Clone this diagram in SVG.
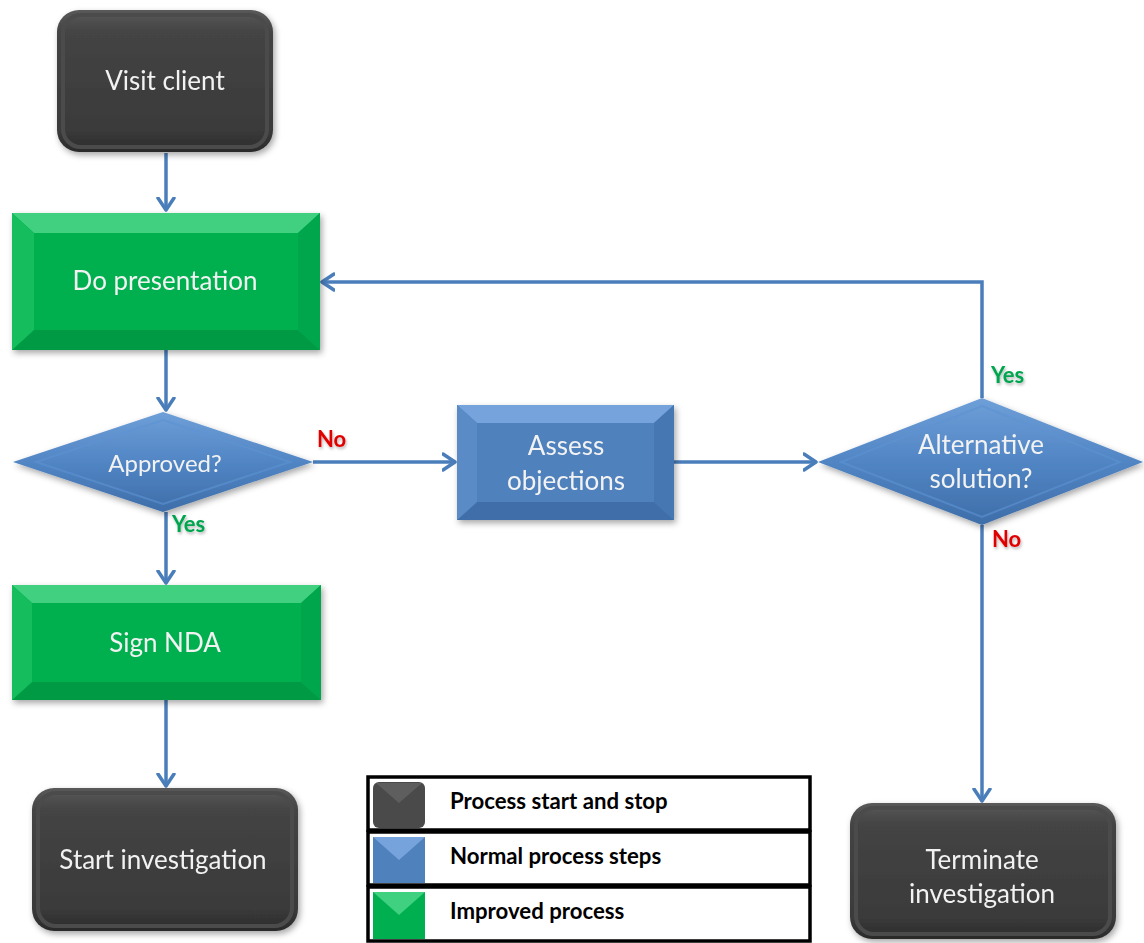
<svg xmlns="http://www.w3.org/2000/svg" width="1144" height="943" viewBox="0 0 1144 943">
<defs>
<style>
.lbl{font-family:Lato,"Liberation Sans",sans-serif;font-size:26px;fill:#f2f2f2;text-anchor:middle}
.yes{font-family:Lato,"Liberation Sans",sans-serif;font-size:22px;font-weight:bold;fill:#00a550}
.no{font-family:Lato,"Liberation Sans",sans-serif;font-size:22px;font-weight:bold;fill:#e00000}
.leg{font-family:Lato,"Liberation Sans",sans-serif;font-size:22.2px;font-weight:bold;fill:#000}
.conn{fill:none;stroke:#4a7ebb;stroke-width:3.5}
.legbox{fill:#fff;stroke:#000;stroke-width:3.5}
</style>
<marker id="arr" markerUnits="userSpaceOnUse" markerWidth="20" markerHeight="20" refX="13" refY="9" orient="auto" viewBox="0 0 20 18">
<path d="M1,1 L13,9 L1,17" fill="none" stroke="#4a7ebb" stroke-width="3.5" stroke-linecap="round" stroke-linejoin="round"/>
</marker>
<linearGradient id="gDark" x1="0" y1="0" x2="0" y2="1">
<stop offset="0" stop-color="#5a5a5a"/>
<stop offset="0.15" stop-color="#444"/>
<stop offset="0.85" stop-color="#3a3a3a"/>
<stop offset="1" stop-color="#2a2a2a"/>
</linearGradient>
<linearGradient id="gDia" x1="0" y1="0" x2="0" y2="1">
<stop offset="0" stop-color="#6e9fd8"/>
<stop offset="0.5" stop-color="#5185c4"/>
<stop offset="1" stop-color="#3e6ea9"/>
</linearGradient>
<filter id="sh" x="-10%" y="-10%" width="125%" height="130%">
<feDropShadow dx="2" dy="3" stdDeviation="3" flood-color="#000" flood-opacity="0.35"/>
</filter>
<filter id="tsh" x="-20%" y="-20%" width="150%" height="160%">
<feDropShadow dx="1" dy="2" stdDeviation="1.5" flood-color="#000" flood-opacity="0.3"/>
</filter>
</defs>
<rect width="1144" height="943" fill="#fff"/>

<g id="connectors">
<path class="conn" d="M166,153 L166,210" marker-end="url(#arr)"/>
<path class="conn" d="M166,350 L166,410" marker-end="url(#arr)"/>
<path class="conn" d="M166,512 L166,583" marker-end="url(#arr)"/>
<path class="conn" d="M166,700 L166,786" marker-end="url(#arr)"/>
<path class="conn" d="M313,462 L455,462" marker-end="url(#arr)"/>
<path class="conn" d="M674,462 L816,462" marker-end="url(#arr)"/>
<path class="conn" d="M982,398 L982,282 L322,282" marker-end="url(#arr)"/>
<path class="conn" d="M982,525 L982,801" marker-end="url(#arr)"/>
<text class="no" x="317" y="447" filter="url(#tsh)">No</text>
<text class="yes" x="172" y="532" filter="url(#tsh)">Yes</text>
<text class="yes" x="991" y="383" filter="url(#tsh)">Yes</text>
<text class="no" x="992" y="547" filter="url(#tsh)">No</text>
</g>

<g id="visit-client" filter="url(#sh)">
<rect x="57" y="10" width="216" height="142" rx="22" fill="url(#gDark)"/>
<rect x="63" y="15" width="204" height="132" rx="18" fill="none" stroke="#4c4c4c" stroke-width="4"/>
<text class="lbl" x="165" y="90">Visit client</text>
</g>

<g id="do-presentation" filter="url(#sh)">
<rect x="12" y="213" width="308" height="137" fill="#00b050"/>
<polygon points="12,213 320,213 298,233 34,233" fill="#3fd080"/>
<polygon points="12,350 320,350 298,330 34,330" fill="#009a44"/>
<polygon points="12,213 34,233 34,330 12,350" fill="#12bd5c"/>
<polygon points="320,213 298,233 298,330 320,350" fill="#00a64b"/>
<text class="lbl" x="165" y="290">Do presentation</text>
</g>

<g id="approved" filter="url(#sh)">
<polygon points="163,412 313,462 163,512 13,462" fill="url(#gDia)"/>
<polygon points="163,420 290,462 163,504 36,462" fill="none" stroke="#5d92d2" stroke-width="2" opacity="0.6"/>
<text class="lbl" x="165" y="472" style="font-size:24px">Approved?</text>
</g>

<g id="assess-objections" filter="url(#sh)">
<rect x="457" y="405" width="217" height="115" fill="#4f81bd"/>
<polygon points="457,405 674,405 654,423 477,423" fill="#77a3dc"/>
<polygon points="457,520 674,520 654,502 477,502" fill="#3f6ea8"/>
<polygon points="457,405 477,423 477,502 457,520" fill="#5a8bc7"/>
<polygon points="674,405 654,423 654,502 674,520" fill="#4677b3"/>
<text class="lbl" x="566" y="455">Assess</text>
<text class="lbl" x="566" y="490">objections</text>
</g>

<g id="alternative-solution" filter="url(#sh)">
<polygon points="982,398 1143,462 982,525 818,462" fill="url(#gDia)"/>
<polygon points="982,406 1120,462 982,517 841,462" fill="none" stroke="#5d92d2" stroke-width="2" opacity="0.6"/>
<text class="lbl" x="981" y="454">Alternative</text>
<text class="lbl" x="981" y="488">solution?</text>
</g>

<g id="sign-nda" filter="url(#sh)">
<rect x="12" y="585" width="309" height="115" fill="#00b050"/>
<polygon points="12,585 321,585 301,603 32,603" fill="#3fd080"/>
<polygon points="12,700 321,700 301,682 32,682" fill="#009a44"/>
<polygon points="12,585 32,603 32,682 12,700" fill="#12bd5c"/>
<polygon points="321,585 301,603 301,682 321,700" fill="#00a64b"/>
<text class="lbl" x="165" y="652">Sign NDA</text>
</g>

<g id="start-investigation" filter="url(#sh)">
<rect x="32" y="788" width="266" height="143" rx="22" fill="url(#gDark)"/>
<rect x="38" y="793" width="254" height="133" rx="18" fill="none" stroke="#4c4c4c" stroke-width="4"/>
<text class="lbl" x="163" y="869">Start investigation</text>
</g>

<g id="terminate-investigation" filter="url(#sh)">
<rect x="850" y="803" width="266" height="136" rx="22" fill="url(#gDark)"/>
<rect x="856" y="808" width="254" height="126" rx="18" fill="none" stroke="#4c4c4c" stroke-width="4"/>
<text class="lbl" x="982" y="869">Terminate</text>
<text class="lbl" x="982" y="903">investigation</text>
</g>

<g id="legend">
<rect class="legbox" x="368" y="777" width="442" height="53"/>
<rect class="legbox" x="368" y="832" width="442" height="53"/>
<rect class="legbox" x="368" y="887" width="442" height="54"/>
<g id="legend-start-stop">
<rect x="373" y="782" width="52" height="46" rx="6" fill="#4a4a4a"/>
<polygon points="376,783 422,783 399,803" fill="#5e5e5e"/>
</g>
<g id="legend-normal">
<rect x="373" y="837" width="52" height="46" fill="#4f81bd"/>
<polygon points="373,837 425,837 399,860" fill="#77a3dc"/>
</g>
<g id="legend-improved">
<rect x="373" y="892" width="52" height="47" fill="#00b050"/>
<polygon points="373,892 425,892 399,915" fill="#3fd080"/>
</g>
<text class="leg" x="450" y="809">Process start and stop</text>
<text class="leg" x="450" y="864">Normal process steps</text>
<text class="leg" x="450" y="919">Improved process</text>
</g>
</svg>
